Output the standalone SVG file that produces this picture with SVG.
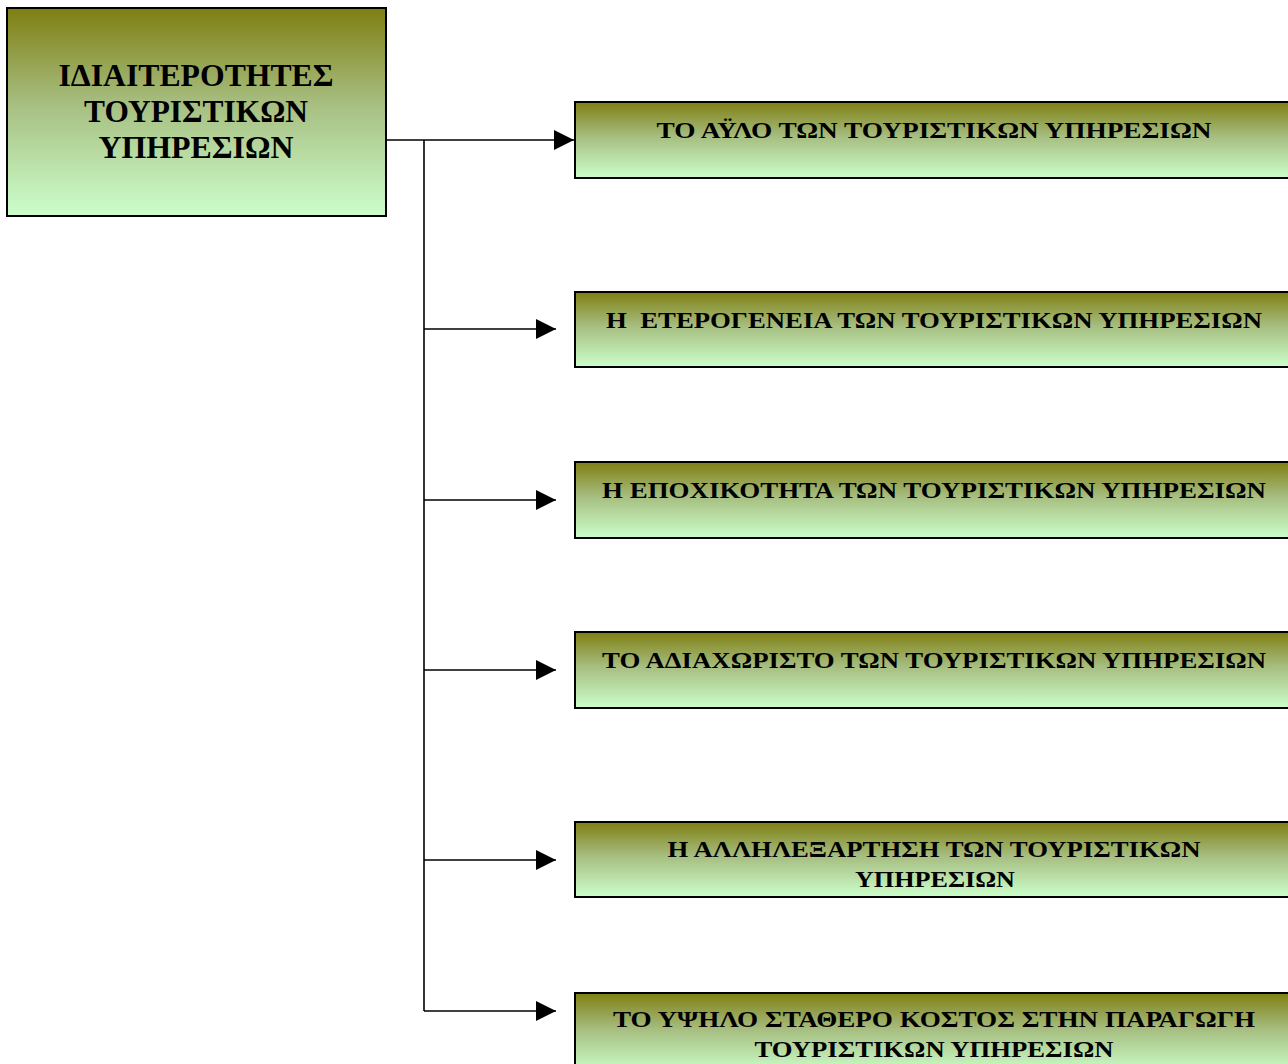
<svg xmlns="http://www.w3.org/2000/svg" width="1288" height="1064" viewBox="0 0 1288 1064">
  <style>
    .box { stroke: #000; stroke-width: 2; fill: url(#olive); }
    .title { font-family: "Liberation Serif", "Times New Roman", serif; font-weight: bold; fill: #000; text-anchor: middle; }
    .main { font-size: 31px; }
    .item { font-size: 24px; }
    .wire { stroke: #000; stroke-width: 1.6; fill: none; }
  </style>
  <defs>
    <linearGradient id="olive" x1="0" y1="0" x2="0" y2="1">
      <stop offset="0" stop-color="#7f7f12"/>
      <stop offset="0.45" stop-color="#a6bd7f"/>
      <stop offset="1" stop-color="#ccffcc"/>
    </linearGradient>
    <marker id="head" markerUnits="userSpaceOnUse" markerWidth="20" markerHeight="20" refX="20" refY="10" orient="auto">
      <path d="M0,0 L20,10 L0,20 Z" fill="#000"/>
    </marker>
  </defs>

  <rect width="1288" height="1064" fill="#fff"/>

  <g id="connectors">
    <line class="wire" x1="386" y1="140" x2="574" y2="140" marker-end="url(#head)"/>
    <polyline class="wire" points="424,140 424,1011"/>
    <line class="wire" x1="424" y1="329" x2="556" y2="329" marker-end="url(#head)"/>
    <line class="wire" x1="424" y1="500" x2="556" y2="500" marker-end="url(#head)"/>
    <line class="wire" x1="424" y1="670" x2="556" y2="670" marker-end="url(#head)"/>
    <line class="wire" x1="424" y1="860" x2="556" y2="860" marker-end="url(#head)"/>
    <line class="wire" x1="424" y1="1011" x2="556" y2="1011" marker-end="url(#head)"/>
  </g>

  <g id="root">
    <rect class="box" x="7" y="8" width="379" height="208"/>
    <text class="title main" x="196" y="86" textLength="275" lengthAdjust="spacingAndGlyphs">ΙΔΙΑΙΤΕΡΟΤΗΤΕΣ</text>
    <text class="title main" x="196" y="122" textLength="224" lengthAdjust="spacingAndGlyphs">ΤΟΥΡΙΣΤΙΚΩΝ</text>
    <text class="title main" x="196" y="158" textLength="195" lengthAdjust="spacingAndGlyphs">ΥΠΗΡΕΣΙΩΝ</text>
  </g>

  <g id="intangibility">
    <rect class="box" x="575" y="102" width="730" height="76"/>
    <text class="title item" x="934" y="138" textLength="555" lengthAdjust="spacingAndGlyphs">ΤΟ ΑΫΛΟ ΤΩΝ ΤΟΥΡΙΣΤΙΚΩΝ ΥΠΗΡΕΣΙΩΝ</text>
  </g>

  <g id="heterogeneity">
    <rect class="box" x="575" y="292" width="730" height="75"/>
    <text class="title item" x="934" y="328" textLength="656" lengthAdjust="spacingAndGlyphs" xml:space="preserve">Η  ΕΤΕΡΟΓΕΝΕΙΑ ΤΩΝ ΤΟΥΡΙΣΤΙΚΩΝ ΥΠΗΡΕΣΙΩΝ</text>
  </g>

  <g id="seasonality">
    <rect class="box" x="575" y="462" width="730" height="76"/>
    <text class="title item" x="934" y="498" textLength="664" lengthAdjust="spacingAndGlyphs">Η ΕΠΟΧΙΚΟΤΗΤΑ ΤΩΝ ΤΟΥΡΙΣΤΙΚΩΝ ΥΠΗΡΕΣΙΩΝ</text>
  </g>

  <g id="inseparability">
    <rect class="box" x="575" y="632" width="730" height="76"/>
    <text class="title item" x="934" y="668" textLength="664" lengthAdjust="spacingAndGlyphs">ΤΟ ΑΔΙΑΧΩΡΙΣΤΟ ΤΩΝ ΤΟΥΡΙΣΤΙΚΩΝ ΥΠΗΡΕΣΙΩΝ</text>
  </g>

  <g id="interdependence">
    <rect class="box" x="575" y="822" width="730" height="75"/>
    <text class="title item" x="934" y="857" textLength="533" lengthAdjust="spacingAndGlyphs">Η ΑΛΛΗΛΕΞΑΡΤΗΣΗ ΤΩΝ ΤΟΥΡΙΣΤΙΚΩΝ</text>
    <text class="title item" x="935" y="887" textLength="160" lengthAdjust="spacingAndGlyphs">ΥΠΗΡΕΣΙΩΝ</text>
  </g>

  <g id="fixed-cost">
    <rect class="box" x="575" y="993" width="730" height="80"/>
    <text class="title item" x="934" y="1027" textLength="642" lengthAdjust="spacingAndGlyphs">ΤΟ ΥΨΗΛΟ ΣΤΑΘΕΡΟ ΚΟΣΤΟΣ ΣΤΗΝ ΠΑΡΑΓΩΓΗ</text>
    <text class="title item" x="934" y="1057" textLength="359" lengthAdjust="spacingAndGlyphs">ΤΟΥΡΙΣΤΙΚΩΝ ΥΠΗΡΕΣΙΩΝ</text>
  </g>
</svg>
